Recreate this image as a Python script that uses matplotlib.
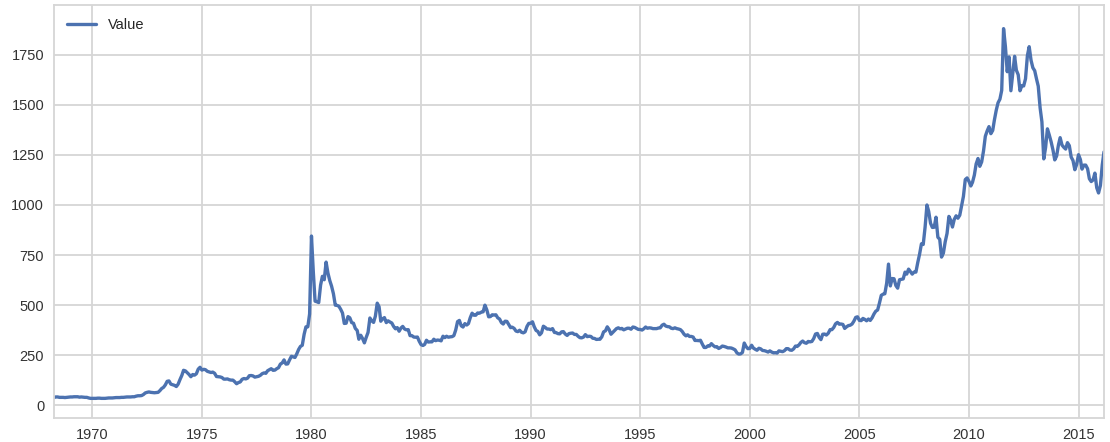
import matplotlib
matplotlib.use("Agg")
import matplotlib.pyplot as plt
import pandas as pd
import seaborn as sns

# Monthly gold price, Apr 1968 .. Mar 2016
start = "1968-04-01"
values = [
    39, 42, 42, 40, 40, 40, 39, 40, 41,                      # 1968 (Apr-Dec)
    42, 42, 43, 43, 43, 41, 42, 41, 40, 40, 37, 35,          # 1969
    35, 35, 35, 36, 36, 35, 35, 35, 36, 37, 37, 37,          # 1970
    38, 39, 39, 39, 40, 40, 41, 42, 42, 42, 43, 43,          # 1971
    46, 48, 48, 49, 54, 62, 65, 67, 65, 64, 63, 64,          # 1972
    65, 74, 84, 90, 102, 120, 122, 106, 103, 100, 94, 106,   # 1973
    129, 150, 175, 172, 163, 154, 143, 154, 151, 158, 181, 190,  # 1974
    176, 180, 178, 170, 167, 164, 166, 160, 144, 143, 142, 139,  # 1975
    131, 131, 132, 128, 126, 126, 118, 108, 114, 117, 130, 134,  # 1976
    132, 136, 148, 149, 147, 141, 143, 145, 150, 158, 162, 160,  # 1977
    173, 178, 183, 175, 176, 183, 188, 206, 212, 227, 206, 207,  # 1978
    227, 245, 242, 239, 257, 279, 294, 300, 355, 392, 392, 456,  # 1979
    845, 665, 520, 517, 513, 600, 644, 627, 715, 661, 623, 595,  # 1980
    557, 500, 499, 495, 480, 461, 409, 410, 443, 437, 413, 410,  # 1981
    384, 374, 330, 350, 334, 312, 339, 364, 436, 422, 414, 445,  # 1982
    510, 492, 420, 432, 438, 413, 422, 416, 411, 394, 382, 388,  # 1983
    370, 386, 394, 381, 377, 378, 348, 348, 341, 340, 341, 320,  # 1984
    303, 299, 304, 325, 316, 317, 317, 330, 323, 326, 325, 322,  # 1985
    345, 338, 345, 340, 342, 343, 348, 376, 418, 424, 397, 391,  # 1986
    408, 401, 408, 438, 460, 450, 450, 461, 460, 465, 467, 500,  # 1987
    477, 442, 443, 452, 451, 452, 437, 431, 413, 406, 420, 419,  # 1988
    404, 388, 390, 384, 371, 368, 375, 365, 362, 367, 394, 409,  # 1989
    410, 417, 393, 374, 369, 352, 362, 395, 389, 381, 381, 378,  # 1990
    383, 364, 363, 358, 357, 367, 368, 356, 349, 358, 360, 361,  # 1991
    354, 354, 345, 338, 337, 341, 353, 343, 345, 344, 335, 334,  # 1992
    329, 330, 330, 342, 367, 372, 392, 378, 355, 364, 373, 383,  # 1993
    387, 382, 384, 377, 381, 385, 385, 380, 391, 389, 384, 379,  # 1994
    379, 376, 382, 391, 385, 387, 386, 383, 383, 383, 386, 387,  # 1995
    400, 405, 396, 393, 392, 385, 383, 387, 383, 381, 378, 369,  # 1996
    355, 347, 352, 344, 344, 341, 324, 324, 323, 325, 306, 289,  # 1997
    289, 297, 296, 308, 299, 292, 293, 284, 289, 296, 294, 291,  # 1998
    287, 287, 286, 282, 277, 262, 256, 257, 264, 311, 293, 283,  # 1999
    284, 300, 286, 280, 275, 285, 282, 274, 273, 270, 266, 272,  # 2000
    266, 262, 263, 261, 272, 270, 268, 273, 283, 283, 276, 275,  # 2001
    282, 296, 294, 302, 314, 321, 313, 310, 319, 317, 319, 333,  # 2002
    356, 359, 340, 328, 355, 356, 351, 360, 378, 378, 389, 407,  # 2003
    414, 405, 406, 404, 384, 392, 398, 400, 406, 420, 439, 442,  # 2004
    424, 423, 434, 429, 422, 431, 424, 437, 456, 470, 476, 510,  # 2005
    549, 555, 557, 610, 705, 596, 633, 632, 598, 585, 627, 629,  # 2006
    631, 665, 655, 680, 668, 655, 665, 665, 713, 754, 806, 803,  # 2007
    889, 1000, 968, 909, 888, 889, 939, 839, 829, 740, 760, 816,  # 2008
    858, 943, 925, 890, 928, 946, 934, 949, 996, 1043, 1127, 1135,  # 2009
    1118, 1095, 1113, 1149, 1205, 1232, 1193, 1215, 1270, 1343, 1370, 1391,  # 2010
    1356, 1372, 1424, 1473, 1510, 1528, 1572, 1880, 1790, 1665, 1739, 1570,  # 2011
    1656, 1742, 1673, 1650, 1570, 1596, 1594, 1630, 1745, 1790, 1722, 1685,  # 2012
    1670, 1628, 1593, 1485, 1415, 1230, 1286, 1380, 1349, 1316, 1275, 1225,  # 2013
    1244, 1300, 1336, 1299, 1288, 1279, 1311, 1296, 1239, 1222, 1176, 1202,  # 2014
    1251, 1227, 1179, 1199, 1199, 1181, 1131, 1117, 1125, 1159, 1086, 1060,  # 2015
    1097, 1200, 1265,                                              # 2016 (Jan-Mar)
]
dates = pd.date_range(start, periods=len(values), freq="MS")
series_label = "Value"

sns.set_style("whitegrid")
plt.rcParams["font.family"] = ["Liberation Sans", "DejaVu Sans"]

fig = plt.figure(figsize=(11.1, 4.42), dpi=100)
ax = fig.add_axes([0.0486, 0.0543, 0.946, 0.9344])

ax.plot(dates, values, color="#4c72b0", linewidth=2.4, label=series_label)
ax.set_xlim(dates[0], dates[-1])
ax.set_ylim(-63, 1998)

ax.grid(True, color="#d6d6d6", linewidth=1.3)
for spine in ax.spines.values():
    spine.set_color("#d6d6d6")
    spine.set_linewidth(1.3)
ax.tick_params(axis="both", labelsize=10.5, colors="#333333", length=0, pad=7)

ax.legend(loc="upper left", frameon=False, fontsize=10.5)

fig.savefig("out.png", dpi=100, facecolor="white")
